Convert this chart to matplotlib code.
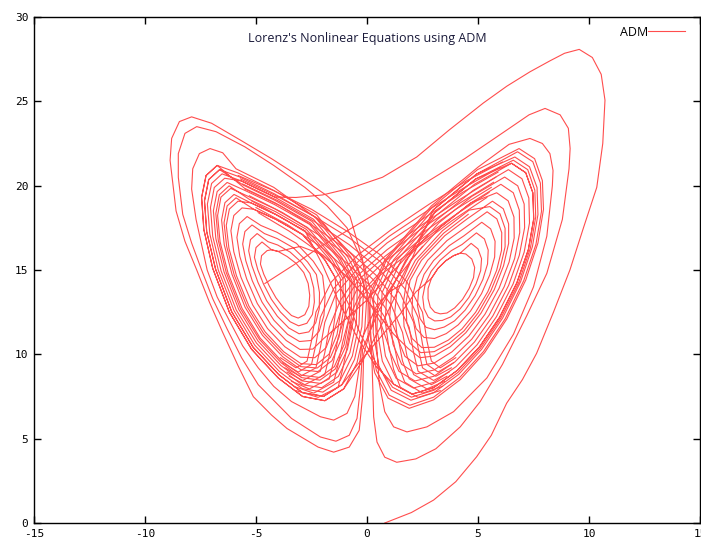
import numpy as np
import matplotlib
matplotlib.use('Agg')
import matplotlib.pyplot as plt

# Trajectory points, in plot order (x, z)
transient = [(0.8, 0.0), (2.0, 0.62), (3.0, 1.36), (4.0, 2.45), (4.94, 3.93), (5.6, 5.2), (6.29, 7.1),
             (7.0, 8.5), (7.64, 10.06), (8.4, 12.5), (9.14, 15.0), (9.75, 17.5), (10.35, 19.9),
             (10.62, 22.5), (10.72, 25.07), (10.55, 26.6), (10.15, 27.6), (9.56, 28.08), (8.9, 27.85),
             (8.24, 27.4), (7.34, 26.75), (6.3, 25.9), (5.24, 24.9), (3.7, 23.3), (2.24, 21.7),
             (0.7, 20.5), (-0.77, 19.84), (-2.0, 19.45), (-3.2, 19.3), (-4.17, 19.33), (-5.66, 20.28)]

left_a = [(-6.41, 20.44), (-6.88, 19.89), (-7.05, 18.71), (-6.95, 17.00), (-6.57, 14.94), (-5.89, 12.63),
          (-4.98, 10.67), (-3.91, 9.16), (-2.93, 8.20), (-2.04, 8.02), (-1.29, 8.69), (-0.77, 10.10),
          (-0.48, 11.91), (-0.43, 14.34), (-0.99, 15.74), (-2.41, 18.01), (-4.17, 19.33), (-5.66, 20.28),
          (-6.53, 20.70), (-7.00, 20.13), (-7.19, 18.91), (-7.08, 17.14), (-6.70, 15.00), (-5.99, 12.59),
          (-5.06, 10.55), (-3.94, 8.97), (-2.92, 7.97), (-1.99, 7.76), (-1.21, 8.44), (-0.66, 9.90),
          (-0.36, 11.77), (-0.29, 14.31), (-0.86, 15.76), (-2.34, 18.14), (-4.18, 19.52), (-5.74, 20.52),
          (-6.64, 20.95), (-7.13, 20.36), (-7.32, 19.10), (-7.22, 17.27), (-6.82, 15.05), (-6.10, 12.54),
          (-5.13, 10.42), (-3.97, 8.79), (-2.91, 7.73), (-1.95, 7.51), (-1.13, 8.20),
          (-0.3, 9.6), (0.6, 11.0), (1.5, 12.4), (2.2, 13.7),
          (2.90, 14.50), (3.20, 15.10), (3.55, 15.55), (3.90, 15.85), (4.20, 16.00)]

right_a = [(4.45, 15.95), (4.72, 15.65), (4.85, 15.15), (4.80, 14.55), (4.60, 13.90), (4.30, 13.25),
           (3.95, 12.75), (3.60, 12.45), (3.30, 12.40), (3.05, 12.50), (2.85, 12.80), (2.75, 13.30),
           (2.75, 13.90), (2.90, 14.50), (3.20, 15.10), (3.55, 15.55), (3.90, 15.85), (4.20, 16.00),
           (4.69, 16.58), (5.00, 16.25), (5.16, 15.67), (5.12, 14.96), (4.91, 14.17), (4.59, 13.37),
           (4.19, 12.69), (3.77, 12.22), (3.39, 12.01), (3.05, 11.98), (2.76, 12.20), (2.57, 12.71),
           (2.51, 13.40), (2.62, 14.15), (2.89, 14.92), (3.28, 15.56), (3.80, 16.15), (4.28, 16.51),
           (4.93, 17.20), (5.29, 16.84), (5.46, 16.18), (5.43, 15.36), (5.22, 14.44), (4.87, 13.48),
           (4.42, 12.62), (3.94, 11.98), (3.48, 11.62), (3.04, 11.46), (2.66, 11.60), (2.39, 12.12),
           (2.27, 12.90), (2.33, 13.80), (2.57, 14.74), (3.00, 15.56), (3.70, 16.44), (4.36, 17.02),
           (5.17, 17.83), (5.57, 17.44), (5.77, 16.70), (5.75, 15.77), (5.53, 14.71), (5.16, 13.60),
           (4.66, 12.56), (4.11, 11.75), (3.57, 11.23), (3.04, 10.94), (2.57, 11.00), (2.21, 11.53),
           (2.03, 12.40), (2.05, 13.45), (2.26, 14.56), (2.73, 15.57), (3.60, 16.74), (4.44, 17.53),
           (5.41, 18.45), (5.85, 18.03), (6.07, 17.21), (6.06, 16.17), (5.84, 14.98), (5.44, 13.71),
           (4.89, 12.49), (4.28, 11.51), (3.66, 10.84), (3.03, 10.42), (2.47, 10.40), (2.03, 10.94),
           (1.79, 11.90), (1.76, 13.10), (1.94, 14.38), (2.45, 15.57), (3.50, 17.03), (4.52, 18.04),
           (5.65, 19.08), (6.14, 18.63), (6.38, 17.73), (6.38, 16.58), (6.15, 15.25), (5.73, 13.83),
           (5.13, 12.43), (4.45, 11.28), (3.75, 10.45), (3.03, 9.90), (2.38, 9.80), (1.85, 10.35),
           (1.2, 11.2), (0.2, 12.9), (-0.9, 14.6), (-2.0, 15.9), (-3.0, 16.4),
           (-4.00, 16.10), (-4.30, 16.20)]

left_b = [(-4.50, 16.15), (-4.75, 15.85), (-4.80, 15.35), (-4.65, 14.75), (-4.40, 14.05), (-4.10, 13.35),
          (-3.75, 12.75), (-3.40, 12.30), (-3.10, 12.15), (-2.80, 12.35), (-2.62, 12.85), (-2.58, 13.50),
          (-2.65, 14.20), (-2.85, 14.85), (-3.20, 15.40), (-3.60, 15.80), (-4.00, 16.10), (-4.30, 16.20),
          (-4.73, 16.66), (-5.00, 16.33), (-5.07, 15.75), (-4.92, 15.02), (-4.66, 14.16), (-4.31, 13.27),
          (-3.90, 12.51), (-3.46, 11.93), (-3.08, 11.69), (-2.71, 11.84), (-2.46, 12.36), (-2.37, 13.10),
          (-2.40, 13.93), (-2.57, 14.79), (-2.94, 15.44), (-3.46, 16.06), (-4.02, 16.48), (-4.46, 16.68),
          (-4.95, 17.16), (-5.25, 16.80), (-5.33, 16.14), (-5.19, 15.28), (-4.91, 14.26), (-4.52, 13.18),
          (-4.04, 12.26), (-3.52, 11.56), (-3.06, 11.22), (-2.62, 11.33), (-2.31, 11.87), (-2.15, 12.70),
          (-2.14, 13.66), (-2.28, 14.73), (-2.68, 15.48), (-3.32, 16.32), (-4.04, 16.86), (-4.62, 17.16),
          (-5.18, 17.67), (-5.50, 17.28), (-5.60, 16.54), (-5.46, 15.55), (-5.17, 14.37), (-4.73, 13.10),
          (-4.19, 12.02), (-3.58, 11.19), (-3.04, 10.76), (-2.53, 10.82), (-2.15, 11.38), (-1.94, 12.30),
          (-1.89, 13.39), (-2.00, 14.67), (-2.42, 15.52), (-3.18, 16.58), (-4.06, 17.24), (-4.78, 17.64),
          (-5.40, 18.17), (-5.75, 17.75), (-5.86, 16.93), (-5.73, 15.81), (-5.42, 14.47), (-4.94, 13.01),
          (-4.33, 11.77), (-3.64, 10.82), (-3.02, 10.29), (-2.44, 10.31), (-1.99, 10.89),
          (-1.2, 11.8), (-0.1, 13.1), (1.1, 14.8), (2.2, 16.4),
          (3.32, 17.56), (4.66, 18.96)]

right_b = [(5.84, 19.58), (6.36, 19.10), (6.62, 18.14), (6.63, 16.90), (6.40, 15.47), (5.95, 13.92),
           (5.31, 12.37), (4.59, 11.09), (3.82, 10.14), (3.02, 9.48), (2.30, 9.32), (1.71, 9.88),
           (1.36, 11.00), (1.25, 12.47), (1.37, 14.06), (1.96, 15.58), (3.32, 17.56), (4.66, 18.96),
           (6.03, 20.08), (6.59, 19.58), (6.86, 18.55), (6.88, 17.22), (6.65, 15.68), (6.18, 14.01),
           (5.50, 12.32), (4.72, 10.90), (3.89, 9.83), (3.02, 9.07), (2.22, 8.84), (1.56, 9.41),
           (1.17, 10.60), (1.02, 12.19), (1.12, 13.91), (1.74, 15.58), (3.24, 17.80), (4.73, 19.37),
           (6.20, 20.51), (6.79, 19.99), (7.08, 18.91), (7.10, 17.51), (6.86, 15.87), (6.38, 14.09),
           (5.67, 12.28), (4.84, 10.73), (3.96, 9.55), (3.01, 8.70), (2.16, 8.42), (1.44, 8.99),
           (1.00, 10.25), (0.82, 11.95), (0.90, 13.79), (1.54, 15.59), (3.17, 18.00), (4.78, 19.72),
           (6.37, 20.95), (6.98, 20.41), (7.29, 19.27), (7.32, 17.79), (7.08, 16.06), (6.58, 14.17),
           (5.83, 12.23), (4.96, 10.57), (4.02, 9.28), (3.01, 8.34), (2.09, 8.00), (1.31, 8.58),
           (0.83, 9.90), (0.62, 11.70), (0.68, 13.66), (1.35, 15.59), (3.10, 18.21), (4.84, 20.08),
           (6.51, 21.33), (7.15, 20.77), (7.47, 19.58), (7.51, 18.03), (7.27, 16.22), (6.75, 14.24),
           (5.97, 12.19), (5.06, 10.43), (4.07, 9.05), (3.01, 8.03), (2.03, 7.64), (1.20, 8.23),
           (0.4, 9.3), (-0.4, 10.9), (-1.3, 13.2), (-2.0, 15.3),
           (-2.79, 17.31), (-4.12, 18.30), (-5.23, 18.98)]

left_c = [(-5.81, 19.08), (-6.20, 18.61), (-6.34, 17.64), (-6.22, 16.29), (-5.88, 14.66), (-5.32, 12.86),
          (-4.59, 11.33), (-3.75, 10.15), (-2.98, 9.45), (-2.28, 9.39), (-1.71, 10.01), (-1.35, 11.18),
          (-1.17, 12.63), (-1.20, 14.50), (-1.69, 15.63), (-2.79, 17.31), (-4.12, 18.30), (-5.23, 18.98),
          (-5.99, 19.48), (-6.40, 18.99), (-6.55, 17.96), (-6.43, 16.50), (-6.08, 14.74), (-5.49, 12.79),
          (-4.71, 11.13), (-3.80, 9.86), (-2.97, 9.08), (-2.21, 8.98), (-1.58, 9.62), (-1.17, 10.86),
          (-0.97, 12.42), (-0.97, 14.45), (-1.48, 15.66), (-2.68, 17.52), (-4.13, 18.61), (-5.36, 19.37),
          (-6.14, 19.84), (-6.58, 19.32), (-6.73, 18.23), (-6.62, 16.68), (-6.26, 14.82), (-5.63, 12.73),
          (-4.81, 10.96), (-3.84, 9.60), (-2.95, 8.76), (-2.14, 8.63), (-1.47, 9.27), (-1.03, 10.58),
          (-0.79, 12.23), (-0.77, 14.41), (-1.30, 15.69), (-2.58, 17.70), (-4.15, 18.87), (-5.47, 19.70),
          (-6.30, 20.19), (-6.75, 19.65), (-6.92, 18.51), (-6.81, 16.87), (-6.44, 14.89), (-5.78, 12.67),
          (-4.91, 10.79), (-3.88, 9.34), (-2.94, 8.43), (-2.08, 8.27), (-1.36, 8.93), (-0.88, 10.30),
          (-0.61, 12.04), (-0.57, 14.37), (-1.12, 15.72), (-2.48, 17.88), (-4.16, 19.14), (-5.58, 20.04),
          (-6.64, 20.95), (-7.13, 20.36), (-7.32, 19.10), (-7.22, 17.27), (-6.82, 15.05), (-6.10, 12.54),
          (-5.13, 10.42), (-3.97, 8.79), (-2.91, 7.73), (-1.95, 7.51), (-1.13, 8.20), (-0.56, 9.70),
          (-0.23, 11.64), (-0.14, 14.28), (-0.73, 15.78), (-2.27, 18.27), (-4.19, 19.71), (-5.82, 20.76),
          (-6.75, 21.20), (-7.25, 20.60), (-7.45, 19.30), (-7.35, 17.40), (-6.95, 15.10), (-6.20, 12.50),
          (-5.20, 10.30), (-4.00, 8.60), (-2.90, 7.50), (-1.90, 7.25), (-1.05, 7.95),
          (-0.2, 9.6), (0.6, 11.6), (1.4, 13.8), (2.1, 15.9),
          (2.98, 18.56), (4.94, 20.69)]

right_c = [(6.66, 21.70), (7.32, 21.12), (7.66, 19.89), (7.70, 18.28), (7.45, 16.38), (6.92, 14.31),
           (6.11, 12.15), (5.16, 10.29), (4.13, 8.81), (3.00, 7.72), (1.98, 7.28), (1.09, 7.87),
           (0.54, 9.30), (0.28, 11.28), (0.30, 13.44), (1.02, 15.60), (2.98, 18.56), (4.94, 20.69),
           (6.78, 22.01), (7.47, 21.42), (7.81, 20.15), (7.86, 18.48), (7.61, 16.52), (7.06, 14.37),
           (6.23, 12.12), (5.25, 10.17), (4.17, 8.62), (3.00, 7.46), (1.93, 6.98), (1.00, 7.58),
           (0.42, 9.05), (0.14, 11.11), (0.14, 13.35), (0.88, 15.60), (2.93, 18.71), (4.98, 20.95),
           (6.85, 22.20), (7.55, 21.60), (7.90, 20.30), (7.95, 18.60), (7.70, 16.60), (7.15, 14.40),
           (6.30, 12.10), (5.30, 10.10), (4.20, 8.50), (3.00, 7.30), (1.90, 6.80), (0.95, 7.40),
           (0.35, 8.90), (0.05, 11.00), (0.05, 13.30), (0.80, 15.60), (2.90, 18.80), (5.00, 21.10),
           (6.4, 22.45), (7.34, 22.8), (7.9, 22.5), (8.24, 21.9), (8.38, 20.9), (8.35, 20.0),
           (8.1, 17.0), (7.5, 14.0), (6.6, 11.2), (5.4, 8.6), (3.9, 6.6), (2.7, 5.7), (1.8, 5.4),
           (1.2, 5.7), (0.8, 6.6), (0.55, 8.3), (0.45, 10.3), (0.35, 12.6), (-0.1, 15.2),
           (-0.9, 17.5), (-1.8, 18.8), (-2.8, 19.9), (-4.2, 21.2), (-5.5, 22.3), (-6.8, 23.2),
           (-7.67, 23.5), (-8.2, 23.1), (-8.5, 21.9), (-8.5, 20.5), (-8.3, 18.3), (-7.9, 16.6),
           (-7.45, 15.0), (-6.95, 13.3), (-6.3, 11.5), (-5.65, 9.8), (-4.9, 8.2), (-3.4, 6.2),
           (-2.1, 5.1), (-1.4, 4.85), (-0.8, 5.2), (-0.45, 6.2), (-0.3, 8.0), (-0.2, 10.3),
           (0.5, 12.5), (1.3, 14.4), (2.1, 16.3),
           (3.04, 18.39), (4.89, 20.39)]

right_d = [(6.51, 21.33), (7.15, 20.77), (7.47, 19.58), (7.51, 18.03), (7.27, 16.22), (6.75, 14.24),
           (5.97, 12.19), (5.06, 10.43), (4.07, 9.05), (3.01, 8.03), (2.03, 7.64), (1.20, 8.23),
           (0.69, 9.60), (0.45, 11.49), (0.49, 13.55), (1.19, 15.59), (3.04, 18.39), (4.89, 20.39),
           (6.59, 21.51), (7.24, 20.95), (7.56, 19.73), (7.60, 18.15), (7.36, 16.30), (6.84, 14.27),
           (6.04, 12.17), (5.11, 10.36), (4.10, 8.93), (3.01, 7.87), (2.00, 7.46), (1.15, 8.05),
           (0.4, 9.5), (-0.3, 11.2), (-0.8, 12.9),
           (-1.43, 14.55), (-1.90, 15.60), (-2.90, 17.10), (-4.10, 18.00), (-5.10, 18.60)]

left_d = [(-5.63, 18.68), (-6.00, 18.23), (-6.13, 17.33), (-6.00, 16.08), (-5.68, 14.58), (-5.15, 12.93),
          (-4.48, 11.53), (-3.70, 10.45), (-3.00, 9.83), (-2.35, 9.80), (-1.84, 10.40), (-1.52, 11.50),
          (-1.38, 12.85), (-1.43, 14.55), (-1.90, 15.60), (-2.90, 17.10), (-4.10, 18.00), (-5.10, 18.60),
          (-5.90, 19.28), (-6.30, 18.80), (-6.44, 17.80), (-6.32, 16.39), (-5.98, 14.70), (-5.40, 12.82),
          (-4.65, 11.23), (-3.77, 10.01), (-2.98, 9.27), (-2.24, 9.19), (-1.65, 9.81), (-1.26, 11.02),
          (-1.07, 12.53), (-1.08, 14.48), (-1.59, 15.65), (-2.73, 17.41), (-4.12, 18.46), (-5.29, 19.18),
          (-6.21, 19.99), (-6.65, 19.46), (-6.81, 18.35), (-6.70, 16.76), (-6.34, 14.85), (-5.70, 12.70),
          (-4.85, 10.89), (-3.86, 9.49), (-2.95, 8.62), (-2.12, 8.47), (-1.43, 9.13), (-0.96, 10.46),
          (-0.71, 12.15), (-0.68, 14.39), (-1.22, 15.70), (-2.54, 17.78), (-4.15, 18.99), (-5.52, 19.85),
          (-6.75, 21.20), (-7.25, 20.60), (-7.45, 19.30), (-7.35, 17.40), (-6.95, 15.10), (-6.20, 12.50),
          (-5.20, 10.30), (-4.00, 8.60), (-2.90, 7.50), (-1.90, 7.25), (-1.05, 7.95), (-0.45, 9.50),
          (-0.10, 11.50), (0.00, 13.60), (-0.60, 15.80), (-2.20, 18.00), (-4.20, 19.90), (-5.90, 21.00),
          (-6.5, 21.95), (-7.07, 22.2), (-7.55, 21.9), (-7.85, 21.0), (-7.9, 19.8), (-7.7, 18.0),
          (-7.2, 15.0), (-6.75, 13.4), (-6.2, 12.0), (-5.6, 10.5), (-4.9, 9.2), (-4.2, 8.1),
          (-3.4, 7.2), (-2.1, 6.3), (-1.5, 6.1), (-0.9, 6.5), (-0.55, 7.5), (-0.35, 9.2),
          (-0.2, 11.0), (0.4, 12.8), (1.0, 13.7),
          (1.63, 14.20), (2.18, 15.58), (3.40, 17.33), (4.60, 18.55),
          (5.53, 18.76), (5.99, 18.33), (6.22, 17.47), (6.22, 16.37), (6.00, 15.12), (5.58, 13.77),
          (5.01, 12.46), (4.37, 11.39), (3.71, 10.65), (3.03, 10.16), (2.42, 10.10), (1.94, 10.65),
          (1.67, 11.65), (1.62, 12.93), (1.78, 14.29), (2.31, 15.57), (3.45, 17.18), (4.56, 18.30)]

# the large outer swings with the deep dips near the origin
outer = [(-4.6, 14.2), (-3.3, 15.3), (-2.2, 16.3), (-0.8, 17.4), (0.6, 18.5), (2.3, 19.9), (4.4, 21.6),
         (6.3, 23.3), (7.3, 24.2), (8.02, 24.58), (8.7, 24.2), (9.07, 23.4), (9.15, 22.2), (9.1, 21.0),
         (8.8, 18.0), (8.1, 14.8), (7.2, 12.3), (6.1, 9.4), (5.1, 7.2), (4.2, 5.7), (3.1, 4.4),
         (2.2, 3.8), (1.34, 3.6), (0.8, 3.9), (0.45, 4.8), (0.3, 6.3), (0.25, 8.5), (0.2, 10.5),
         (0.1, 12.8), (-0.2, 15.6), (-0.77, 18.2), (-1.8, 19.4), (-3.0, 20.5), (-4.3, 21.6),
         (-5.7, 22.7), (-7.0, 23.7), (-7.9, 24.08), (-8.45, 23.8), (-8.8, 22.8), (-8.87, 21.5),
         (-8.6, 18.5), (-8.2, 16.7), (-7.67, 15.0), (-7.1, 13.1), (-6.5, 11.3), (-5.8, 9.3),
         (-5.12, 7.49), (-4.3, 6.4), (-3.6, 5.6), (-2.2, 4.5), (-1.5, 4.2), (-0.8, 4.5),
         (-0.35, 5.5), (-0.2, 7.5), (-0.15, 10.0), (0.4, 12.6), (1.4, 14.6), (2.5, 16.4)]

# wing-to-wing passes that make the crossed lattice in the middle
cross_left_to_right = [
    [(-5.8, 20.6), (-4.2, 19.7), (-2.5, 18.6), (-0.9, 17.3), (0.6, 15.9), (1.8, 14.3), (2.5, 12.5),
     (2.7, 10.8), (2.9, 9.6), (3.3, 9.2), (4.0, 9.8)],
    [(-5.7, 20.4), (-4.1, 19.4), (-2.4, 18.2), (-0.8, 16.9), (0.6, 15.5), (1.7, 13.9), (2.3, 12.2),
     (2.5, 10.6), (2.7, 9.4), (3.2, 8.95), (3.9, 9.5)],
    [(-5.6, 20.1), (-4.0, 19.1), (-2.4, 17.9), (-0.8, 16.5), (0.5, 15.1), (1.5, 13.6), (2.1, 11.9),
     (2.3, 10.4), (2.5, 9.2), (3.1, 8.7), (3.8, 9.2)],
    [(-5.5, 19.8), (-3.9, 18.8), (-2.3, 17.5), (-0.8, 16.1), (0.4, 14.7), (1.3, 13.2), (1.9, 11.6),
     (2.1, 10.1), (2.3, 9.0), (3.0, 8.45), (3.7, 8.95)],
    [(-5.3, 19.4), (-3.8, 18.4), (-2.2, 17.1), (-0.8, 15.8), (0.3, 14.4), (1.1, 12.9), (1.6, 11.3),
     (1.8, 9.9), (2.1, 8.8), (2.9, 8.2), (3.6, 8.7)],
    [(-5.2, 19.1), (-3.7, 18.0), (-2.2, 16.8), (-0.9, 15.4), (0.2, 14.0), (0.9, 12.6), (1.4, 11.0),
     (1.6, 9.6), (1.9, 8.55), (2.7, 7.95), (3.5, 8.4)],
    [(-5.0, 18.7), (-3.6, 17.7), (-2.1, 16.4), (-0.9, 15.0), (0.1, 13.6), (0.8, 12.2), (1.2, 10.7),
     (1.4, 9.4), (1.7, 8.35), (2.5, 7.7), (3.4, 8.1)],
    [(-4.9, 18.4), (-3.5, 17.3), (-2.1, 16.0), (-1.0, 14.7), (0.0, 13.3), (0.6, 11.9), (1.0, 10.4),
     (1.2, 9.1), (1.5, 8.05), (2.3, 7.45), (3.3, 7.85)],
]

cross_right_to_left = [
    [(6.1, 21.4), (4.5, 20.3), (2.8, 18.9), (1.1, 17.4), (-0.4, 15.9), (-1.6, 14.3), (-2.3, 12.5),
     (-2.5, 10.8), (-2.7, 9.6), (-3.2, 9.2), (-3.9, 9.8)],
    [(6.0, 21.1), (4.4, 19.9), (2.7, 18.5), (1.0, 17.0), (-0.4, 15.5), (-1.5, 13.9), (-2.1, 12.2),
     (-2.3, 10.6), (-2.5, 9.4), (-3.1, 8.95), (-3.8, 9.5)],
    [(5.9, 20.8), (4.3, 19.6), (2.6, 18.1), (0.9, 16.6), (-0.4, 15.1), (-1.4, 13.6), (-1.9, 11.9),
     (-2.1, 10.4), (-2.3, 9.2), (-3.0, 8.7), (-3.7, 9.2)],
    [(5.8, 20.5), (4.2, 19.2), (2.5, 17.7), (0.9, 16.2), (-0.4, 14.7), (-1.2, 13.2), (-1.7, 11.6),
     (-1.9, 10.1), (-2.1, 9.0), (-2.9, 8.45), (-3.6, 8.95)],
    [(5.7, 20.2), (4.1, 18.9), (2.4, 17.4), (0.8, 15.8), (-0.4, 14.4), (-1.1, 12.9), (-1.5, 11.3),
     (-1.7, 9.9), (-1.9, 8.8), (-2.8, 8.2), (-3.5, 8.7)],
    [(5.6, 19.9), (4.0, 18.6), (2.3, 17.0), (0.7, 15.4), (-0.4, 14.0), (-0.9, 12.6), (-1.3, 11.0),
     (-1.5, 9.6), (-1.7, 8.55), (-2.6, 7.95), (-3.4, 8.4)],
    [(5.5, 19.6), (3.9, 18.2), (2.2, 16.6), (0.7, 15.0), (-0.3, 13.6), (-0.8, 12.2), (-1.1, 10.7),
     (-1.3, 9.4), (-1.5, 8.35), (-2.4, 7.7), (-3.3, 8.1)],
    [(5.4, 19.3), (3.8, 17.9), (2.1, 16.2), (0.6, 14.7), (-0.3, 13.3), (-0.7, 11.9), (-0.9, 10.4),
     (-1.1, 9.1), (-1.3, 8.05), (-2.2, 7.45), (-3.2, 7.85)],
]

x_ticks = [-15, -10, -5, 0, 5, 10, 15]
y_ticks = [0, 5, 10, 15, 20, 25, 30]
title_text = "Lorenz's Nonlinear Equations using ADM"
legend_label = 'ADM'

line_color = '#ff4d4d'

plt.rcParams['axes.unicode_minus'] = False

fig = plt.figure(figsize=(7.01, 5.40), dpi=100)
ax = fig.add_axes([34 / 701, 17 / 540, 666 / 701, 506 / 540])

main_path = np.array(transient + left_a + right_a + left_b + right_b
                     + left_c + right_c + right_d + left_d)
ax.plot(main_path[:, 0], main_path[:, 1], color=line_color, lw=0.8, label=legend_label)

for seg in [outer] + cross_left_to_right + cross_right_to_left:
    pts = np.array(seg)
    ax.plot(pts[:, 0], pts[:, 1], color=line_color, lw=0.8)

ax.set_xlim(-15, 15)
ax.set_ylim(0, 30)
ax.set_xticks(x_ticks)
ax.set_yticks(y_ticks)
ax.tick_params(direction='in', top=True, right=True, length=5, width=1, labelsize=8, pad=4)
for lbl in ax.get_xticklabels() + ax.get_yticklabels():
    lbl.set_fontfamily('DejaVu Sans Mono')
for sp in ax.spines.values():
    sp.set_linewidth(1.0)

ax.text(0.5, 0.958, title_text, transform=ax.transAxes, ha='center', va='center',
        fontsize=9, family='Open Sans', color='#1a1a3a')

ax.legend(loc='upper right', bbox_to_anchor=(0.991, 1.0), markerfirst=False, frameon=False,
          handlelength=3.0, handletextpad=0.0, borderaxespad=0.3,
          prop={'family': 'Open Sans', 'size': 9})

fig.savefig('out.png', dpi=100)
